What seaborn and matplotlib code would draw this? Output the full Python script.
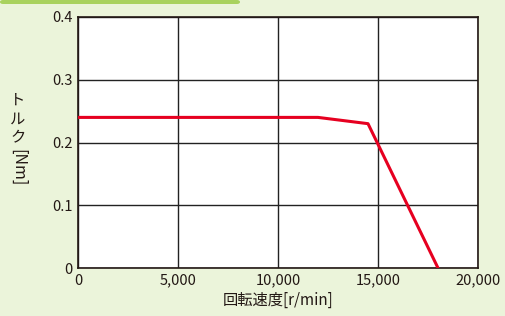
import matplotlib
matplotlib.use("Agg")
import matplotlib.pyplot as plt
import seaborn as sns
import pandas as pd
from matplotlib.patches import FancyBboxPatch

# torque curve
speed = [0, 12000, 14500, 18000]
torque = [0.24, 0.24, 0.23, 0.0]
x_ticks = [0, 5000, 10000, 15000, 20000]
x_labels = ["0", "5,000", "10,000", "15,000", "20,000"]
y_ticks = [0, 0.1, 0.2, 0.3, 0.4]
y_labels = ["0", "0.1", "0.2", "0.3", "0.4"]

sns.set_style("white")
plt.rcParams["font.family"] = ["Noto Sans CJK JP", "DejaVu Sans"]

bg = "#ebf4da"
fig = plt.figure(figsize=(5.06, 3.16), dpi=100, facecolor=bg)
ax = fig.add_axes([78 / 506, 48 / 316, 400 / 506, 251 / 316])
ax.set_facecolor("white")

# tab strip at top left
fig.patches.append(FancyBboxPatch((0, 312 / 316), 240 / 506, 4 / 316,
                                  boxstyle="round,pad=0,rounding_size=0.006",
                                  transform=fig.transFigure, facecolor="#a9d25e",
                                  edgecolor="none"))

df = pd.DataFrame({"speed": speed, "torque": torque})
sns.lineplot(data=df, x="speed", y="torque", ax=ax, color="#e60020",
             linewidth=2.2, zorder=3)

ax.set_xlim(0, 20000)
ax.set_ylim(0, 0.4)
ax.set_xticks(x_ticks)
ax.set_xticklabels(x_labels)
ax.set_yticks(y_ticks)
ax.set_yticklabels(y_labels)
ax.grid(True, color="#222222", linewidth=1)
ax.tick_params(axis="both", length=0, labelsize=10.5, colors="#231815", pad=4)
for s in ax.spines.values():
    s.set_color("#231815")
    s.set_linewidth(1.2)

ax.set_xlabel("回転速度[r/min]", fontsize=11, color="#231815", labelpad=3)
ax.set_ylabel("")
# vertical japanese y label
fig.text(18 / 506, 1 - 119 / 316, "ト\nル\nク", ha="center", va="center",
         fontsize=11, color="#231815", linespacing=1.15)
fig.text(18 / 506, 1 - 168 / 316, "[Nm]", ha="center", va="center",
         fontsize=11.5, color="#231815", rotation=-90)

fig.savefig("out.png", dpi=100, facecolor=bg)
